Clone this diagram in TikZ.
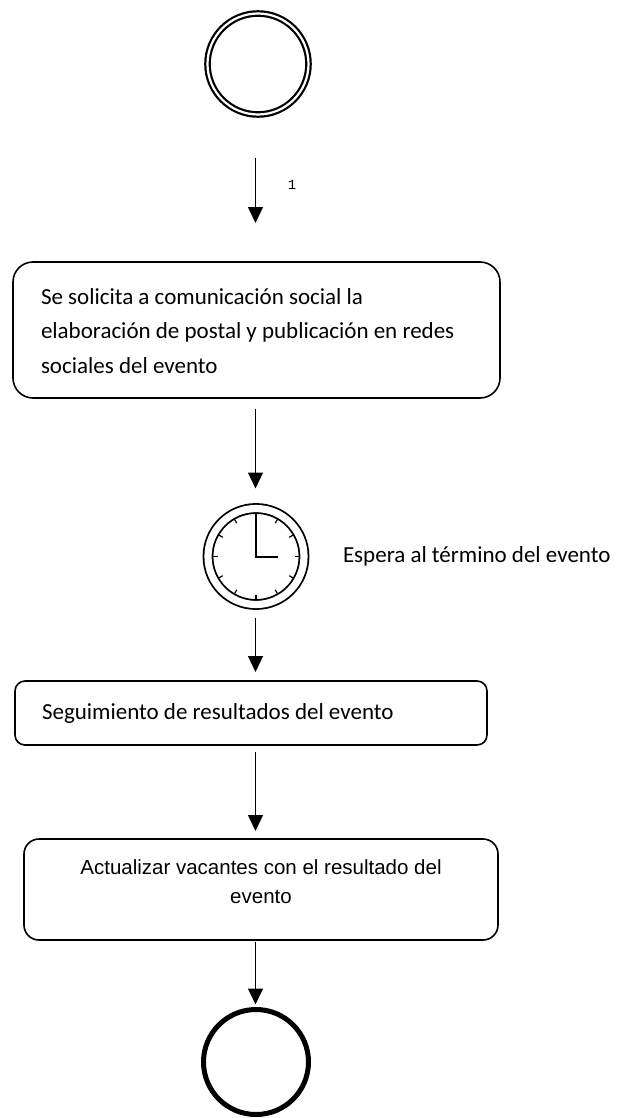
\documentclass[tikz,border=0pt]{standalone}
\usepackage{fontspec}
\setmainfont{Carlito}
\newfontfamily\arialfont{Liberation Sans}
\newfontfamily\codefont{Liberation Mono}
\usetikzlibrary{arrows.meta,calc}
\tikzset{
  evstart/.style={circle, draw, double, line width=2.2pt, double distance=2.2pt, minimum size=101pt, inner sep=0pt, outer sep=0pt},
  evtimer/.style={circle, draw, double, line width=1.8pt, double distance=7.2pt, minimum size=96pt, inner sep=0pt, outer sep=0pt},
  evend/.style={circle, draw, line width=5pt, minimum size=105pt, inner sep=0pt, outer sep=0pt},
  taskbox/.style={draw, line width=1.6pt, inner sep=0pt, outer sep=0pt, anchor=north west},
  calfont/.style={font=\fontsize{23}{34.5}\selectfont},
  flow/.style={-{Triangle[width=15pt,length=16pt]}, line width=1.3pt},
  txt/.style={inner sep=0pt, outer sep=0pt}
}
\begin{document}
\begin{tikzpicture}[x=1pt,y=-1pt]
\useasboundingbox (0,0) rectangle (620,1118);
\coordinate (col) at (255.5,0);
% events
\node[evstart] (start) at (258,64) {};
\node[evtimer] (clock) at (256,556.5) {};
\foreach \a in {0,30,...,330}
  \draw[line width=1.2pt] (clock.center) ++(\a:43.5) -- ++(\a+180:5);
\draw[line width=2pt] ($(clock.center)+(0,-42)$) -- (clock.center) -- ++(22,0);
\node[evend] (end) at (256,1062) {};
% tasks
\node[taskbox, rounded corners=20pt, minimum width=487pt, minimum height=136pt] (t1) at (13,262) {};
\node[txt, calfont, anchor=west, align=left] (t1txt) at (41,331)
  {Se solicita a comunicación social la\\elaboración de postal y publicación en redes\\sociales del evento};
\node[taskbox, rounded corners=10pt, minimum width=472pt, minimum height=64pt] (t2) at (15,681) {};
\node[txt, calfont, anchor=west] (t2txt) at (42,713) {Seguimiento de resultados del evento};
\node[taskbox, rounded corners=15pt, minimum width=474pt, minimum height=101pt] (t3) at (24,839) {};
\node[txt, font=\arialfont\fontsize{20.5}{29}\selectfont, align=center] (t3txt) at (261,882)
  {Actualizar vacantes con el resultado del\\evento};
% labels
\node[txt, calfont, anchor=west] (waitlbl) at (343,556) {Espera al término del evento};
\node[txt, font=\codefont\fontsize{14}{16}\selectfont] (lbl1) at (292,185) {1};
% flows
\draw[flow, shorten <=44pt, shorten >=39pt] (start.south -| col) -- (t1.north -| col);
\draw[flow, shorten <=11pt, shorten >=20pt] (t1.south -| col) -- (clock.north -| col);
\draw[flow, shorten <=13pt, shorten >=9pt] (clock.south -| col) -- (t2.north -| col);
\draw[flow, shorten <=7pt, shorten >=8pt] (t2.south -| col) -- (t3.north -| col);
\draw[flow, shorten <=2pt, shorten >=5pt] (t3.south -| col) -- (end.north -| col);
\end{tikzpicture}
\end{document}
